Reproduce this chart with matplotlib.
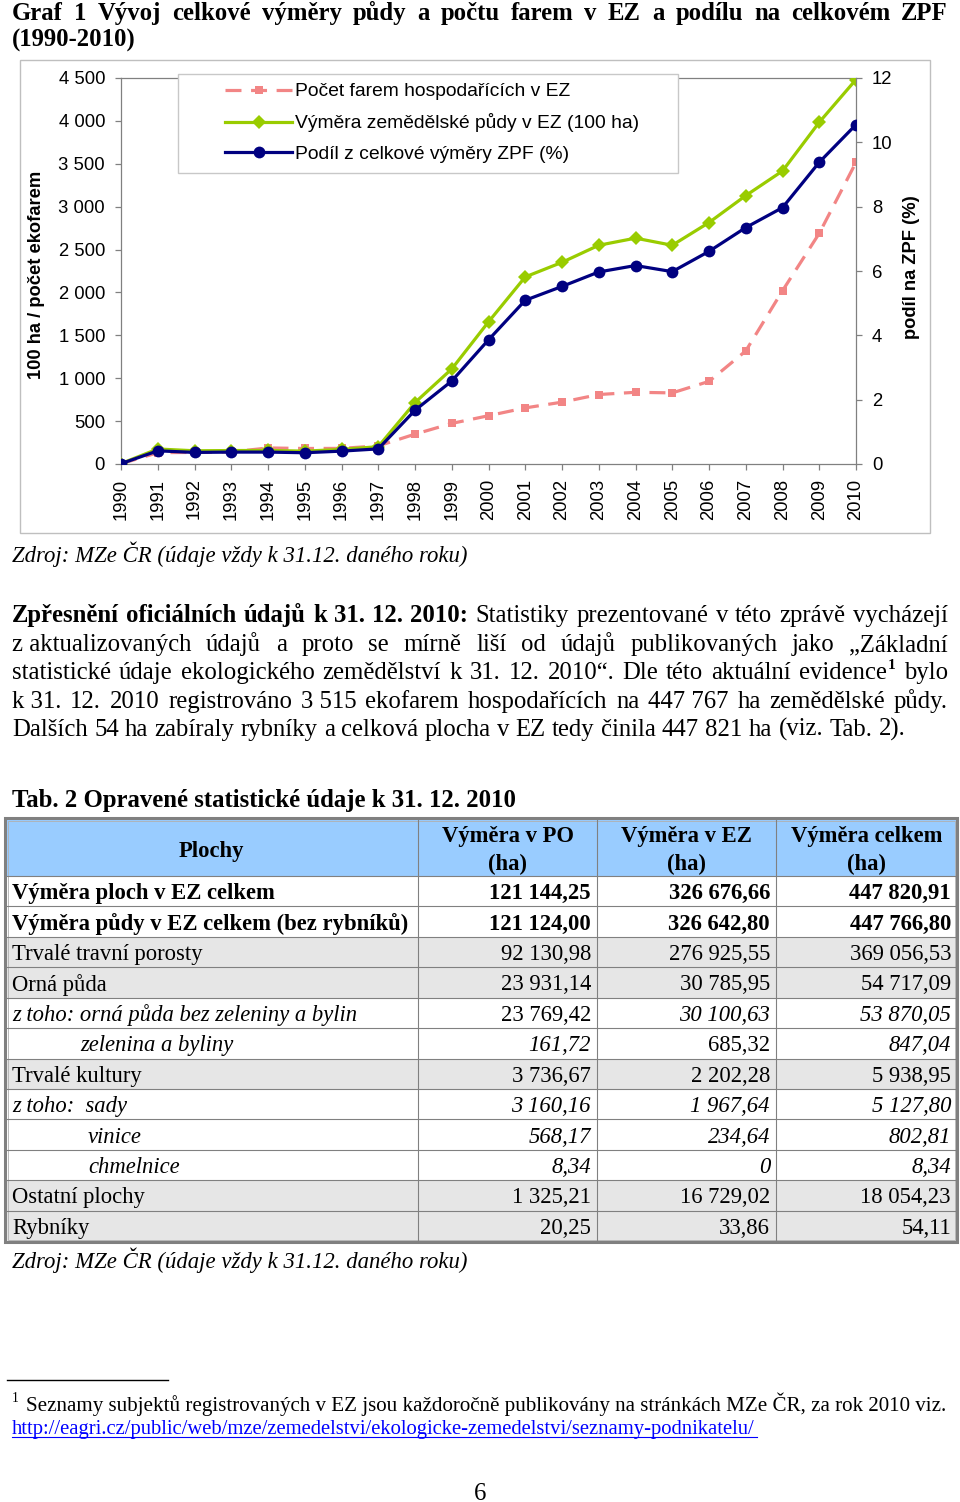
import matplotlib
matplotlib.use('Agg')
import matplotlib.pyplot as plt
from matplotlib.patches import Rectangle
from matplotlib.ticker import FuncFormatter

# ---------------- data ----------------
years = list(range(1990, 2011))
farms = [3, 132, 135, 141, 187, 181, 182, 211, 348, 473, 563, 654, 721, 810, 836, 829, 963, 1318, 2020, 2689, 3517]
area_100ha = [5, 175, 154, 157, 158, 150, 170, 202, 716, 1108, 1657, 2181, 2351, 2550, 2633, 2550, 2815, 3129, 3416, 3984, 4482]
share_pct = [0.01, 0.41, 0.36, 0.37, 0.37, 0.35, 0.40, 0.47, 1.67, 2.58, 3.86, 5.09, 5.52, 5.97, 6.17, 5.98, 6.61, 7.35, 7.97, 9.38, 10.55]
series_labels = ["Počet farem hospodařících v EZ",
                 "Výměra zemědělské půdy v EZ (100 ha)",
                 "Podíl z celkové výměry ZPF (%)"]
left_ticks = [0, 500, 1000, 1500, 2000, 2500, 3000, 3500, 4000, 4500]
right_ticks = [0, 2, 4, 6, 8, 10, 12]

title_line1 = "Graf 1 Vývoj celkové výměry půdy a počtu farem v EZ a podílu na celkovém ZPF"
title_line2 = "(1990-2010)"
source_text = "Zdroj: MZe ČR (údaje vždy k 31.12. daného roku)"
ylabel_left = "100 ha / počet ekofarem"
ylabel_right = "podíl na ZPF (%)"

para_bold = "Zpřesnění oficiálních údajů k 31. 12. 2010:"
para_lines = [
    "Statistiky prezentované v této zprávě vycházejí",
    "z\u00a0aktualizovaných údajů a proto se mírně liší od údajů publikovaných jako „Základní",
    "statistické údaje ekologického zemědělství k 31. 12. 2010“. Dle této aktuální evidence^1 bylo",
    "k\u00a031. 12. 2010 registrováno 3\u00a0515 ekofarem hospodařících na 447\u00a0767 ha zemědělské půdy.",
    "Dalších 54 ha zabíraly rybníky a celková plocha v EZ tedy činila 447 821 ha (viz. Tab. 2).",
]
table_title = "Tab. 2 Opravené statistické údaje k 31. 12. 2010"
table_header = ["Plochy", "Výměra v PO\n(ha)", "Výměra v EZ\n(ha)", "Výměra celkem\n(ha)"]
row_labels = ["Výměra ploch v EZ celkem", "Výměra půdy v EZ celkem (bez rybníků)",
              "Trvalé travní porosty", "Orná půda", "z toho: orná půda bez zeleniny a bylin",
              "zelenina a byliny", "Trvalé kultury", "z toho:  sady", "vinice", "chmelnice",
              "Ostatní plochy", "Rybníky"]
col_po = ["121 144,25", "121 124,00", "92 130,98", "23 931,14", "23 769,42", "161,72",
          "3 736,67", "3 160,16", "568,17", "8,34", "1 325,21", "20,25"]
col_ez = ["326 676,66", "326 642,80", "276 925,55", "30 785,95", "30 100,63", "685,32",
          "2 202,28", "1 967,64", "234,64", "0", "16 729,02", "33,86"]
col_total = ["447 820,91", "447 766,80", "369 056,53", "54 717,09", "53 870,05", "847,04",
             "5 938,95", "5 127,80", "802,81", "8,34", "18 054,23", "54,11"]
footnote_text = "Seznamy subjektů registrovaných v EZ jsou každoročně publikovány na stránkách MZe ČR, za rok 2010 viz."
footnote_url = "http://eagri.cz/public/web/mze/zemedelstvi/ekologicke-zemedelstvi/seznamy-podnikatelu/"
page_number = "6"

# ---------------- styles ----------------
row_weight = ['bold', 'bold'] + ['normal'] * 10
row_indent = [0, 0, 0, 0, 0, 68, 0, 0, 76, 76, 0, 0]
row_fill = ['white', 'white', '#E6E6E6', '#E6E6E6', 'white', 'white', '#E6E6E6',
            'white', 'white', 'white', '#E6E6E6', '#E6E6E6']
cell_style = [['normal'] * 4, ['normal'] * 4, ['normal'] * 4, ['normal'] * 4,
              ['italic', 'normal', 'italic', 'italic'],
              ['italic', 'italic', 'normal', 'italic'],
              ['normal'] * 4, ['italic'] * 4, ['italic'] * 4, ['italic'] * 4,
              ['normal'] * 4, ['normal'] * 4]

SERIF = 'Liberation Serif'
SANS = 'Liberation Sans'
RED, GREEN, BLUE = '#F28585', '#99CC00', '#000080'
GRAYAX = '#808080'
TICK_FS = 13.3
YLAB_FS = 13.2

W, H = 960, 1502
fig = plt.figure(figsize=(W / 100, H / 100), dpi=100)
page = fig.add_axes([0, 0, 1, 1])
page.set_xlim(0, W)
page.set_ylim(H, 0)
page.axis('off')
renderer = fig.canvas.get_renderer()


def text_width(s, **kw):
    t = page.text(0, 0, s, **kw)
    w = t.get_window_extent(renderer).width
    t.remove()
    return w


def fit_size(s, target, **kw):
    return 10.0 * target / text_width(s, fontsize=10, **kw)


def draw_line(items, x0, y, fs, x1=None, family=SERIF):
    words = []
    for txt, weight in items:
        for w in txt.split(' '):
            if w:
                words.append((w, weight))
    arts, widths = [], []
    for w, weight in words:
        sup = None
        if '^' in w:
            w, sup = w.split('^')
        t = page.text(0, y, w, fontsize=fs, fontweight=weight, family=family,
                      va='baseline', ha='left')
        wd = t.get_window_extent(renderer).width
        st, swd = None, 0
        if sup:
            st = page.text(0, y - fs * 0.42 * 100 / 72, sup, fontsize=fs * 0.62,
                           fontweight='bold', family=family, va='baseline', ha='left')
            swd = st.get_window_extent(renderer).width + 1
        arts.append((t, st, wd))
        widths.append(wd + swd)
    space = (text_width('a a', fontsize=fs, family=family) -
             text_width('aa', fontsize=fs, family=family))
    if x1 is not None and len(words) > 1:
        gap = (x1 - x0 - sum(widths)) / (len(words) - 1)
    else:
        gap = space
    x = x0
    for (t, st, wd), ww in zip(arts, widths):
        t.set_x(x)
        if st is not None:
            st.set_x(x + wd + 1)
        x += ww + gap


# font sizes
para_fs = fit_size(para_lines[-1], 894, family=SERIF)
ital_fs = fit_size(source_text, 455, family=SERIF, style='italic')
tab_fs = fit_size(row_labels[1], 398, family=SERIF, fontweight='bold')
foot_fs = fit_size(footnote_text, 920, family=SERIF)
url_fs = fit_size(footnote_url, 745, family=SERIF)

# ---------------- title ----------------
draw_line([(title_line1, 'bold')], 12, 20, para_fs, x1=948)
draw_line([(title_line2, 'bold')], 12, 47, para_fs)

# ---------------- chart ----------------
page.add_patch(Rectangle((20, 60), 910, 473, fill=False, edgecolor='#BFBFBF', lw=1))

ax = fig.add_axes([121 / W, 1 - 464 / H, 735 / W, 386 / H])
ax.patch.set_visible(False)
ax2 = ax.twinx()
ax2.patch.set_visible(False)

l_red, = ax.plot(years, farms, color=RED, lw=2.3, marker='s', markersize=6,
                 markeredgewidth=0, dashes=(5, 3), zorder=2)
l_green, = ax.plot(years, area_100ha, color=GREEN, lw=2.3, marker='D', markersize=7.5,
                   markeredgewidth=0, zorder=3)
l_blue, = ax2.plot(years, share_pct, color=BLUE, lw=2.3, marker='o', markersize=8.5,
                   markeredgewidth=0, zorder=3)

ax.set_xlim(1990, 2010)
ax.set_ylim(0, 4500)
ax2.set_ylim(0, 12)
ax.set_xticks(years)
ax.set_xticklabels([str(y) for y in years], family=SANS)
ax.set_yticks(left_ticks)
ax.yaxis.set_major_formatter(FuncFormatter(lambda v, p: f"{int(v):,}".replace(",", " ")))
ax2.set_yticks(right_ticks)
for a in (ax, ax2):
    for sp in a.spines.values():
        sp.set_color(GRAYAX)
        sp.set_linewidth(0.9)
    a.tick_params(axis='both', direction='out', length=4.5, width=0.9, color=GRAYAX,
                  labelsize=TICK_FS, pad=7, labelcolor='black')
    for lab in a.get_yticklabels():
        lab.set_family(SANS)
ax.tick_params(axis='x', labelrotation=90, pad=6)
ax.spines['right'].set_visible(False)
for s in ('left', 'top', 'bottom'):
    ax2.spines[s].set_visible(False)

page.text(37, 275, ylabel_left, rotation=90, ha='center', va='center',
          fontweight='bold', family=SANS, fontsize=YLAB_FS)
page.text(912, 267, ylabel_right, rotation=90, ha='center', va='center',
          fontweight='bold', family=SANS, fontsize=YLAB_FS)

# legend
leg_fs = fit_size(series_labels[0], 276, family=SANS)
fs_px = leg_fs * 100 / 72
row_h = fs_px * 1.16
frame = Rectangle((178, 74), 500, 99, transform=page.transData, facecolor='white',
                  edgecolor='#C8C8C8', lw=1, zorder=3, clip_on=False)
ax2.add_artist(frame)
leg = ax2.legend([l_red, l_green, l_blue], series_labels, loc='upper left',
                 bbox_to_anchor=(225 / W, 1 - (94 - row_h / 2) / H),
                 bbox_transform=fig.transFigure, frameon=False, borderpad=0,
                 borderaxespad=0, handlelength=67 / fs_px, handletextpad=3 / fs_px,
                 labelspacing=(35.5 - row_h) / fs_px, prop={'family': SANS, 'size': leg_fs})
leg.set_zorder(5)

page.text(12, 562, source_text, fontsize=ital_fs, style='italic', family=SERIF,
          va='baseline', ha='left')

# ---------------- paragraph ----------------
base_y = [622, 651, 679, 708, 736]
draw_line([(para_bold, 'bold'), (para_lines[0], 'normal')], 12, base_y[0], para_fs, x1=948)
for i in range(1, 4):
    draw_line([(para_lines[i], 'normal')], 12, base_y[i], para_fs, x1=948)
draw_line([(para_lines[4], 'normal')], 12, base_y[4], para_fs)

# ---------------- table ----------------
page.text(12, 807, table_title, fontsize=para_fs, fontweight='bold', family=SERIF,
          va='baseline', ha='left')
col_x = [5, 418, 597, 776, 957]
top, head_bot, bot = 819, 876, 1241
row_h_t = (bot - head_bot) / len(row_labels)
page.add_patch(Rectangle((col_x[0], top), col_x[-1] - col_x[0], head_bot - top,
                         facecolor='#99CCFF', edgecolor='none'))
for i in range(len(row_labels)):
    y0 = head_bot + i * row_h_t
    if row_fill[i] != 'white':
        page.add_patch(Rectangle((col_x[0], y0), col_x[-1] - col_x[0], row_h_t,
                                 facecolor=row_fill[i], edgecolor='none'))
for i in range(len(row_labels)):
    y0 = head_bot + i * row_h_t
    page.plot([col_x[0], col_x[-1]], [y0, y0], color=GRAYAX, lw=0.8)
for x in col_x[1:-1]:
    page.plot([x, x], [top, bot], color=GRAYAX, lw=0.8)
page.add_patch(Rectangle((col_x[0], top - 1), col_x[-1] - col_x[0], bot - top + 2,
                         fill=False, edgecolor=GRAYAX, lw=2.2))
page.add_patch(Rectangle((col_x[0] + 2.5, top + 1.5), col_x[-1] - col_x[0] - 5, bot - top - 3,
                         fill=False, edgecolor='#B0B0B0', lw=0.6))
page.text((col_x[0] + col_x[1]) / 2, 849, table_header[0], ha='center', va='center_baseline',
          fontsize=tab_fs, fontweight='bold', family=SERIF)
for j in range(1, 4):
    l1, l2 = table_header[j].split('\n')
    cx = (col_x[j] + col_x[j + 1]) / 2
    page.text(cx, 834, l1, ha='center', va='center_baseline', fontsize=tab_fs,
              fontweight='bold', family=SERIF)
    page.text(cx, 862, l2, ha='center', va='center_baseline', fontsize=tab_fs,
              fontweight='bold', family=SERIF)
cols = [col_po, col_ez, col_total]
for i, lab in enumerate(row_labels):
    yc = head_bot + (i + 0.5) * row_h_t
    page.text(12 + row_indent[i], yc, lab, ha='left', va='center_baseline', fontsize=tab_fs,
              fontweight=row_weight[i], style=cell_style[i][0], family=SERIF)
    for j in range(3):
        page.text(col_x[j + 2] - 6, yc, cols[j][i], ha='right', va='center_baseline',
                  fontsize=tab_fs, fontweight=row_weight[i], style=cell_style[i][j + 1],
                  family=SERIF)

page.text(12, 1268, source_text, fontsize=ital_fs, style='italic', family=SERIF,
          va='baseline', ha='left')

# ---------------- footnote ----------------
page.plot([7, 168], [1380, 1380], color='black', lw=1)
page.text(12, 1402, "1", fontsize=foot_fs * 0.65, family=SERIF, va='baseline', ha='left')
page.text(26, 1411, footnote_text, fontsize=foot_fs, family=SERIF, va='baseline', ha='left')
page.text(12, 1434, footnote_url, fontsize=url_fs, family=SERIF, va='baseline', ha='left',
          color='#0000FF')
page.plot([12, 757], [1437, 1437], color='#0000FF', lw=0.8)
page.text(480, 1500, page_number, fontsize=para_fs, family=SERIF, va='baseline', ha='center')

fig.savefig('out.png', dpi=100)
